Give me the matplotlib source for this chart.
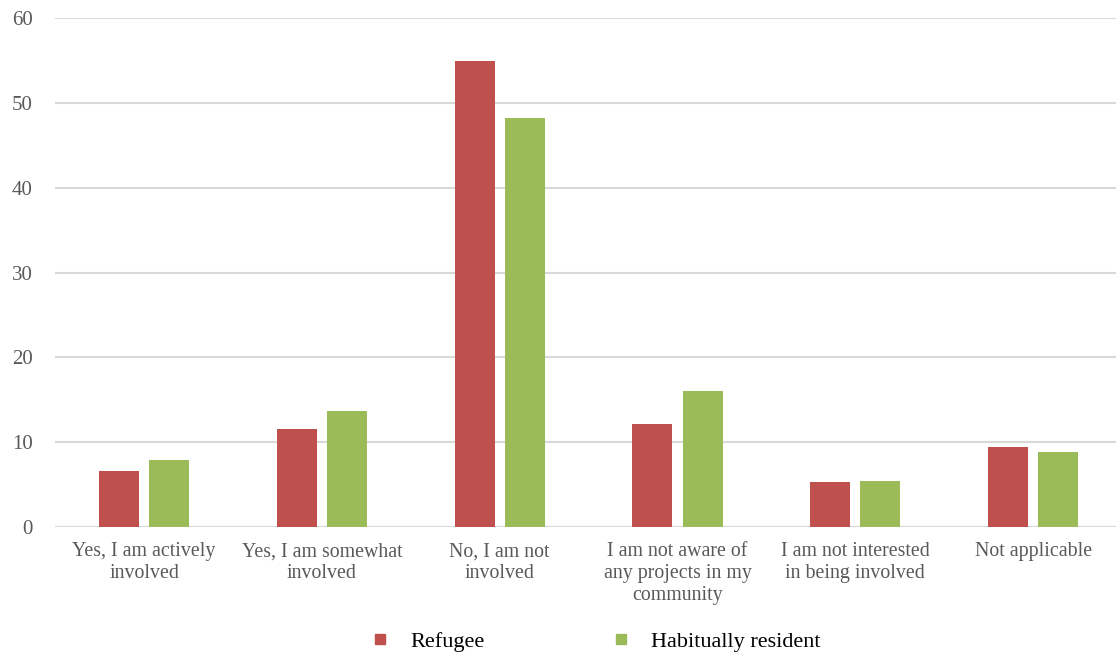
import matplotlib

matplotlib.use("Agg")
import matplotlib.pyplot as plt
from matplotlib.lines import Line2D
import numpy as np

categories = [
    "Yes, I am actively\ninvolved",
    "Yes, I am somewhat\ninvolved",
    "No, I am not\ninvolved",
    "I am not aware of\nany projects in my\ncommunity",
    "I am not interested\nin being involved",
    "Not applicable",
]
refugee = [6.6, 11.6, 54.9, 12.2, 5.3, 9.4]
habitual = [7.9, 13.7, 48.2, 16.0, 5.4, 8.8]
series_names = ["Refugee", "Habitually resident"]
yticks = [0, 10, 20, 30, 40, 50, 60]

RED = "#C0504D"
GREEN = "#9BBB59"
GRID = "#D9D9D9"
FONT = ["Liberation Serif", "DejaVu Serif"]

plt.rcParams["font.family"] = FONT

fig = plt.figure(figsize=(11.16, 6.55), dpi=100)
ax = fig.add_axes([0.0494, 0.1954, 0.956, 0.7771])

x = np.arange(len(categories))
width = 0.225
offset = 0.141
ax.bar(x - offset, refugee, width, color=RED, zorder=3)
ax.bar(x + offset, habitual, width, color=GREEN, zorder=3)

ax.set_xlim(-0.5, len(categories) - 0.5)
ax.set_ylim(0, 60)
ax.set_yticks(yticks)
ax.set_yticklabels([str(v) for v in yticks])
ax.yaxis.grid(True, color=GRID, linewidth=1.5, zorder=0)
ax.set_axisbelow(True)

for side in ["top", "right", "left", "bottom"]:
    ax.spines[side].set_visible(False)
ax.axhline(0, color=GRID, linewidth=1.5, zorder=1)

ax.set_xticks(x)
ax.set_xticklabels(categories, fontsize=14.3, color="#595959", linespacing=1.2)
ax.tick_params(axis="x", length=0, pad=11)
ax.tick_params(axis="y", length=0, pad=16, labelsize=15, labelcolor="#595959")

handles = [
    Line2D([], [], marker="s", linestyle="none", markersize=7.5, color=RED),
    Line2D([], [], marker="s", linestyle="none", markersize=7.5, color=GREEN),
]
fig.legend(
    handles,
    series_names,
    loc="center left",
    bbox_to_anchor=(0.318, 0.02),
    ncol=2,
    frameon=False,
    fontsize=16,
    handlelength=0.5,
    handletextpad=1.1,
    columnspacing=5.9,
)

fig.savefig("out.png", dpi=100)
